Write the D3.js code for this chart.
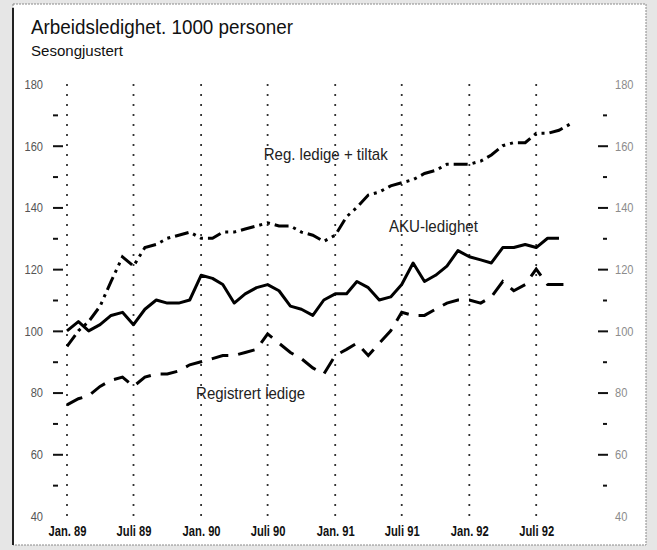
<!DOCTYPE html>
<html>
<head>
<meta charset="utf-8">
<script src="https://cdn.jsdelivr.net/npm/d3@7/dist/d3.min.js"></script>
<style>
  body { margin: 0; background: #e6e6e6; }
  svg { display: block; }
  text { font-family: "Liberation Sans", Arial, Helvetica, sans-serif; }
</style>
</head>
<body>
<div id="chart"></div>
<script>
// Arbeidsledighet, 1000 personer, sesongjustert. Monthly values from Jan. 89
const startMonth = new Date(1989, 0, 1);

const akuLedighet = [100, 103, 100, 102, 105, 106, 102, 107, 110, 109,
                     109, 110, 118, 117, 115, 109, 112, 114, 115, 113,
                     108, 107, 105, 110, 112, 112, 116, 114, 110, 111,
                     115, 122, 116, 118, 121, 126, 124, 123, 122, 127,
                     127, 128, 127, 130, 130];

const regTiltak = [95, 100, 103, 108, 116, 124, 121, 127, 128, 130,
                   131, 132, 130, 130, 132, 132, 133, 134, 135, 134,
                   134, 132, 131, 129, 131, 137, 140, 144, 145, 147,
                   148, 149, 151, 152, 154, 154, 154, 155, 157, 160,
                   161, 161, 164, 164, 165, 167];

const registrert = [76, 78, 79, 82, 84, 85, 82, 85, 86, 86,
                    87, 89, 90, 91, 92, 92, 93, 94, 99, 96,
                    93, 91, 88, 86, 92, 94, 96, 92, 96, 100,
                    106, 105, 105, 107, 109, 110, 110, 109, 111, 116,
                    113, 115, 120, 115, 115, 115];

const yLabelValues = [40, 60, 80, 100, 120, 140, 160, 180];
const yMajorTicks = [60, 80, 100, 120, 140, 160];
const yMinorTicks = [50, 70, 90, 110, 130, 150, 170];

const xTickMonths = [0, 6, 12, 18, 24, 30, 36, 42];
const xTickLabels = ["Jan. 89", "Juli 89", "Jan. 90", "Juli 90", "Jan. 91", "Juli 91", "Jan. 92", "Juli 92"];

// label anchor given as (month index, value) on the chart
const seriesLabels = [
  { text: "Reg. ledige + tiltak", month: 17.6, value: 155.4, size: 17, len: 124 },
  { text: "AKU-ledighet", month: 28.8, value: 132.1, size: 16, len: 89 },
  { text: "Registrert ledige", month: 11.55, value: 77.9, size: 16, len: 109 }
];

const W = 657, H = 550;
const monthDate = i => d3.timeMonth.offset(startMonth, i);

// squeeze text horizontally so Liberation Sans looks like a narrow face
function squeeze(sel, k) {
  sel.each(function () {
    const len = this.getComputedTextLength();
    d3.select(this).attr("textLength", len * k).attr("lengthAdjust", "spacingAndGlyphs");
  });
}

const svg = d3.select("#chart").append("svg")
  .attr("width", W)
  .attr("height", H);

// frame
svg.append("rect")
  .attr("x", 13).attr("y", 4)
  .attr("width", 633).attr("height", 541)
  .attr("fill", "#fff")
  .attr("stroke", "#8a8a8a")
  .attr("stroke-width", 1)
  .attr("stroke-dasharray", "2,1");
svg.append("line")
  .attr("x1", 13).attr("x2", 13)
  .attr("y1", 8).attr("y2", 545)
  .attr("stroke", "#222").attr("stroke-width", 2);

// scales
const x = d3.scaleTime()
  .domain([monthDate(0), monthDate(45)])
  .range([67, 570]);

const y = d3.scaleLinear()
  .domain([40, 180])
  .range([516, 84]);

// title
svg.append("text")
  .attr("x", 31).attr("y", 34)
  .attr("font-size", 19.5)
  .attr("fill", "#111")
  .attr("textLength", 262).attr("lengthAdjust", "spacingAndGlyphs")
  .text("Arbeidsledighet. 1000 personer");
svg.append("text")
  .attr("x", 31).attr("y", 56)
  .attr("font-size", 14)
  .attr("fill", "#111")
  .attr("textLength", 92).attr("lengthAdjust", "spacingAndGlyphs")
  .text("Sesongjustert");

// dotted vertical grid lines
svg.append("g")
  .selectAll("line")
  .data(xTickMonths)
  .join("line")
  .attr("x1", d => x(monthDate(d)))
  .attr("x2", d => x(monthDate(d)))
  .attr("y1", y(180))
  .attr("y2", y(40))
  .attr("stroke", "#333")
  .attr("stroke-width", 1.8)
  .attr("stroke-dasharray", "2,8");

// left ticks (pointing inwards) and labels
const leftMajor = svg.append("g")
  .attr("transform", "translate(53,0)")
  .call(d3.axisRight(y).tickValues(yMajorTicks).tickSize(10).tickFormat(""));
const leftMinor = svg.append("g")
  .attr("transform", "translate(53,0)")
  .call(d3.axisRight(y).tickValues(yMinorTicks).tickSize(5).tickFormat(""));
const leftLabels = svg.append("g")
  .attr("transform", "translate(43,0)")
  .call(d3.axisLeft(y).tickValues(yLabelValues).tickSize(0).tickPadding(0));

// right ticks and labels
const rightMajor = svg.append("g")
  .attr("transform", "translate(608,0)")
  .call(d3.axisLeft(y).tickValues(yMajorTicks).tickSize(10).tickFormat(""));
const rightMinor = svg.append("g")
  .attr("transform", "translate(607,0)")
  .call(d3.axisLeft(y).tickValues(yMinorTicks).tickSize(4).tickFormat(""));
const rightLabels = svg.append("g")
  .attr("transform", "translate(615,0)")
  .call(d3.axisRight(y).tickValues(yLabelValues).tickSize(0).tickPadding(0));

[leftMajor, leftMinor, rightMajor, rightMinor].forEach(g => {
  g.select(".domain").remove();
  g.selectAll(".tick line").attr("stroke", "#111").attr("stroke-width", 2);
});
[leftLabels, rightLabels].forEach(g => {
  g.select(".domain").remove();
  g.attr("font-family", null).attr("font-size", null);
  g.selectAll(".tick text").attr("font-size", 13.5);
  squeeze(g.selectAll(".tick text"), 0.82);
});
leftLabels.selectAll(".tick text").attr("fill", "#555");
rightLabels.selectAll(".tick text").attr("fill", "#8c8c8c");

// bottom labels
const bottom = svg.append("g")
  .attr("transform", "translate(0,531)")
  .call(d3.axisBottom(x)
    .tickValues(xTickMonths.map(monthDate))
    .tickSize(0)
    .tickPadding(0)
    .tickFormat((d, i) => xTickLabels[i]));
bottom.select(".domain").remove();
bottom.attr("font-family", null).attr("font-size", null);
bottom.selectAll(".tick text")
  .attr("font-size", 14)
  .attr("font-weight", "bold")
  .attr("fill", "#111")
  .attr("dy", "0.35em")
  .attr("y", 0);
squeeze(bottom.selectAll(".tick text"), 0.8);

// lines
const line = d3.line()
  .x((d, i) => x(monthDate(i)))
  .y(d => y(d));

svg.append("path")
  .datum(regTiltak)
  .attr("d", line)
  .attr("fill", "none")
  .attr("stroke", "#000")
  .attr("stroke-width", 3)
  .attr("stroke-dasharray", "14,5,3,5,3,5");

svg.append("path")
  .datum(akuLedighet)
  .attr("d", line)
  .attr("fill", "none")
  .attr("stroke", "#000")
  .attr("stroke-width", 3)
  .attr("stroke-linejoin", "round");

svg.append("path")
  .datum(registrert)
  .attr("d", line)
  .attr("fill", "none")
  .attr("stroke", "#000")
  .attr("stroke-width", 3)
  .attr("stroke-dasharray", "17,10");

// series labels
const monthStep = (x(monthDate(45)) - x(monthDate(0))) / 45;
svg.append("g")
  .selectAll("text")
  .data(seriesLabels)
  .join("text")
  .attr("x", d => x(monthDate(0)) + monthStep * d.month)
  .attr("y", d => y(d.value))
  .attr("font-size", d => d.size)
  .attr("fill", "#222")
  .attr("textLength", d => d.len)
  .attr("lengthAdjust", "spacingAndGlyphs")
  .text(d => d.text);
</script>
</body>
</html>
